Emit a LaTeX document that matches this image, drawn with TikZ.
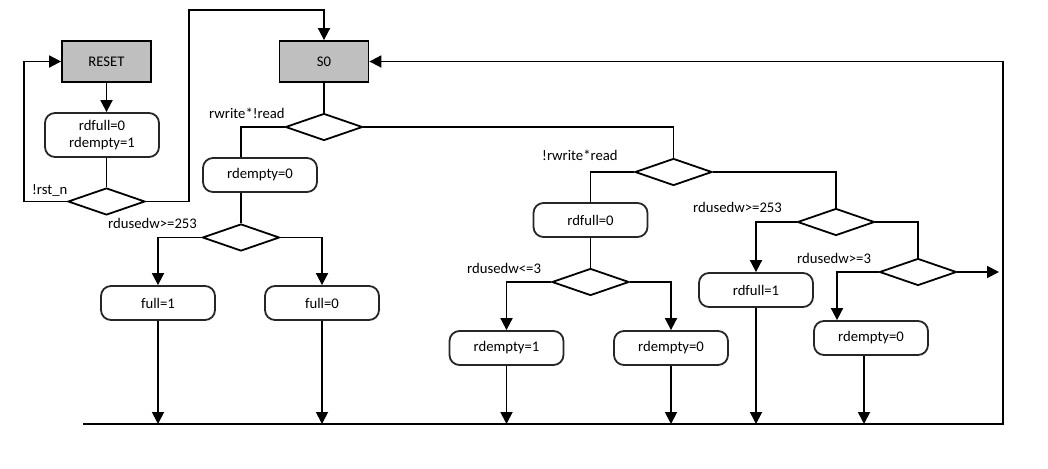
\documentclass[tikz,border=0pt]{standalone}
\usepackage{fontspec}
\setmainfont{Carlito}
\usetikzlibrary{arrows.meta,shapes}
\tikzstyle{state}=[rectangle,draw=black,fill=black!25,line width=1.8pt,minimum width=89pt,minimum height=41pt,inner sep=0pt]
\tikzstyle{action}=[rectangle,rounded corners=10pt,draw=black!85,line width=1.8pt,minimum width=114pt,minimum height=34pt,align=center,inner sep=0pt]
\tikzstyle{decision}=[diamond,draw=black,line width=1.8pt,minimum width=77pt,minimum height=27pt,inner sep=0pt]
\tikzstyle{cond}=[anchor=base west,inner sep=0pt]
\tikzstyle{edge}=[draw,line width=1.8pt,-]
\tikzstyle{flow}=[draw,line width=1.8pt,-{Triangle[length=12pt,width=12pt]}]

\begin{document}
\begin{tikzpicture}[x=1pt,y=-1pt,font=\fontsize{14.7}{17}\selectfont]
    \useasboundingbox (0,0) rectangle (1048,468);
    % The two states
    \foreach \pos/\name/\txt in {{(106.5,61.5)/reset/RESET}, {(324,61.5)/s0/S0}}
        \node[state] (\name) at \pos {\txt};

    % Then the actions
    \node[action,minimum height=44pt] (init) at (102,135) {rdfull=0\\rdempty=1};
    \foreach \pos/\name/\txt in {{(260,175)/emp0/rdempty=0}, {(158,303)/full1/full=1}, {(322,303)/full0/full=0},
                                 {(590.5,220)/rdf0/rdfull=0}, {(506.5,348)/emp1/rdempty=1}, {(671,348)/emp0b/rdempty=0},
                                 {(756,290)/rdf1/rdfull=1}, {(871,338)/emp0c/rdempty=0}}
        \node[action] (\name) at \pos {\txt};

    % Then the decisions
    \foreach \pos/\name in {{(106.5,201.5)/drst}, {(324,127)/dwr}, {(241,237.5)/dfull}, {(673.5,172)/drd},
                            {(590.5,282)/dlow}, {(836,222)/dhigh}, {(918,272)/dmin}}
        \node[decision] (\name) at \pos {};

    % Conditions
    \foreach \pos/\name/\txt in {{(32,194)/l_rst/!rst\_n}, {(209,118)/l_wr/rwrite*!read}, {(108,228)/l_full/rdusedw>=253},
                                 {(542,160)/l_rd/!rwrite*read}, {(467,273)/l_low/rdusedw<=3},
                                 {(693,212)/l_high/rdusedw>=253}, {(797,263)/l_min/rdusedw>=3}}
        \node[cond] (\name) at \pos {\txt};

    \coordinate (busL) at (83,424);
    \coordinate (busR) at (1003,424);
    \coordinate (loopL) at (24,201.5);
    \coordinate (loopT) at (189,10);
    \coordinate (exit) at (999,272);

    % Connect them
    \path[flow] (reset.south) -- (reset.south |- init.north);
    \path[edge] (init.south -| drst.north) -- (drst.north);
    \path[flow] (drst.west) -- (loopL) |- (reset.west);
    \path[flow] (drst.east) -| (loopT) -| (s0.north);
    \path[edge] (s0.south) -- (dwr.north);
    \path[edge] (dwr.west) -| (dfull.north |- emp0.north);
    \path[edge] (emp0.south -| dfull.north) -- (dfull.north);
    \path[flow] (dfull.west) -| (full1.north);
    \path[flow] (dfull.east) -| (full0.north);
    \path[edge] (dwr.east) -| (drd.north);
    \path[edge] (drd.west) -| (rdf0.north);
    \path[edge] (rdf0.south) -- (dlow.north);
    \path[flow] (dlow.west) -| (emp1.north);
    \path[flow] (dlow.east) -| (emp0b.north);
    \path[edge] (drd.east) -| (dhigh.north);
    \path[flow] (dhigh.west) -| (rdf1.north);
    \path[edge] (dhigh.east) -| (dmin.north);
    \path[flow] (dmin.west) -| ([xshift=-34pt]emp0c.north);
    \path[flow] (dmin.east) -- (exit);

    % Down to the bus and back to S0
    \foreach \name in {full1,full0,emp1,emp0b,rdf1}
        \path[flow] (\name.south) -- (\name.south |- busL);
    \path[flow] ([xshift=-7pt]emp0c.south) -- ([xshift=-7pt]emp0c.south |- busL);
    \path[flow] (busL) -- (busR) |- (s0.east);
\end{tikzpicture}
\end{document}
